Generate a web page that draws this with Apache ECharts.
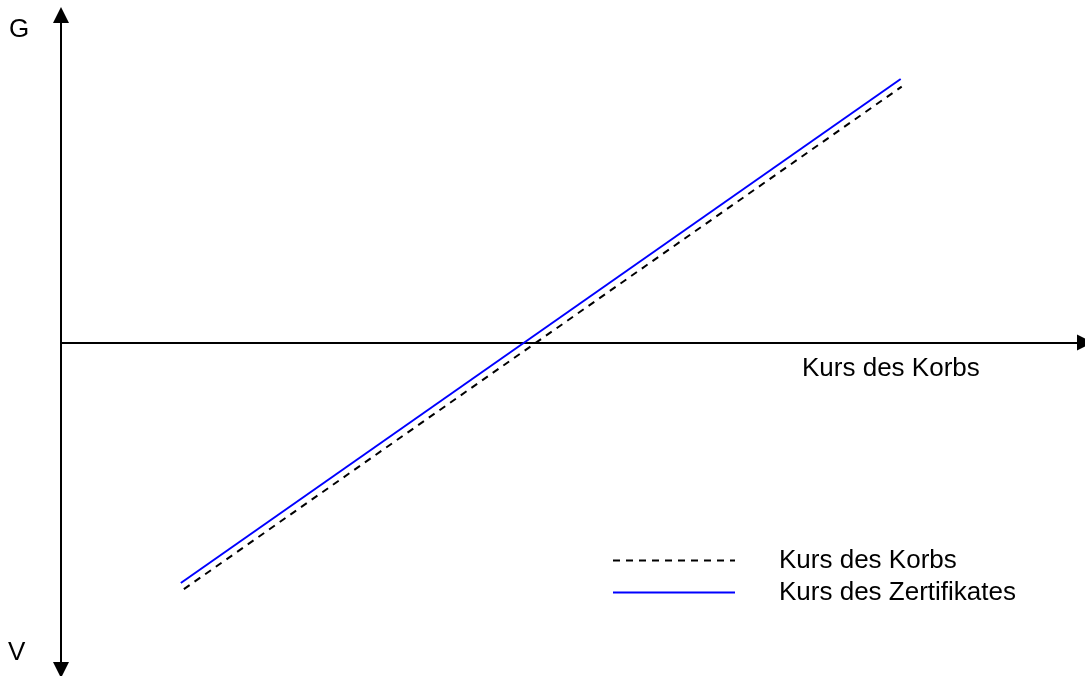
<!DOCTYPE html>
<html>
<head>
<meta charset="utf-8">
<script src="https://cdn.jsdelivr.net/npm/echarts@6/dist/echarts.min.js"></script>
<style>
html,body{margin:0;padding:0;background:#fff;}
#chart{width:1085px;height:676px;}
</style>
</head>
<body>
<div id="chart"></div>
<script>
// Conceptual chart: Gewinn (G) / Verlust (V) vs. Kurs des Korbs
var seriesNames = ['Kurs des Korbs', 'Kurs des Zertifikates'];
var korbLine = [[12.0, -24.1], [82.1, 25.0]];
var zertifikatLine = [[11.7, -23.5], [82.0, 25.75]];
var xRange = [0, 100];
var yRange = [-32, 32];
var axisTexts = { gain: 'G', loss: 'V', xName: 'Kurs des Korbs' };

var FONT = '"Liberation Sans", Arial, sans-serif';
var chart = echarts.init(document.getElementById('chart'));
chart.setOption({
  animation: false,
  backgroundColor: '#ffffff',
  grid: { left: 61, top: 15, width: 1024, height: 655, containLabel: false },
  xAxis: {
    type: 'value', min: xRange[0], max: xRange[1],
    axisLine: { show: true, onZero: true, symbol: ['none', 'triangle'], symbolSize: [16, 16],
      lineStyle: { color: '#000', width: 2 } },
    axisTick: { show: false }, axisLabel: { show: false }, splitLine: { show: false }
  },
  yAxis: {
    type: 'value', min: yRange[0], max: yRange[1],
    axisLine: { show: true, symbol: ['triangle', 'triangle'], symbolSize: [16, 16],
      lineStyle: { color: '#000', width: 2 } },
    axisTick: { show: false }, axisLabel: { show: false }, splitLine: { show: false }
  },
  legend: {
    orient: 'vertical', left: 612, top: 546, padding: 0,
    itemWidth: 122, itemHeight: 14, itemGap: 3,
    itemStyle: { opacity: 0, borderWidth: 0 },
    textStyle: { fontFamily: FONT, fontSize: 26, color: '#000', lineHeight: 29, padding: [0, 0, 0, 39] },
    data: seriesNames
  },
  series: [
    {
      name: seriesNames[0], type: 'line', data: korbLine, symbol: 'none',
      lineStyle: { color: '#000', width: 2, type: [7, 6] }, itemStyle: { color: '#000' }
    },
    {
      name: seriesNames[1], type: 'line', data: zertifikatLine, symbol: 'none',
      lineStyle: { color: '#0000ff', width: 2 }, itemStyle: { color: '#0000ff' }
    }
  ],
  graphic: [
    { type: 'text', left: 9, top: 31 - 14, style: { text: axisTexts.gain, font: '26px ' + FONT, fill: '#000' } },
    { type: 'text', left: 8, top: 654 - 14, style: { text: axisTexts.loss, font: '26px ' + FONT, fill: '#000' } },
    { type: 'text', left: 802, top: 368 - 12, style: { text: axisTexts.xName, font: '26px ' + FONT, fill: '#000' } }
  ]
});
</script>
</body>
</html>
